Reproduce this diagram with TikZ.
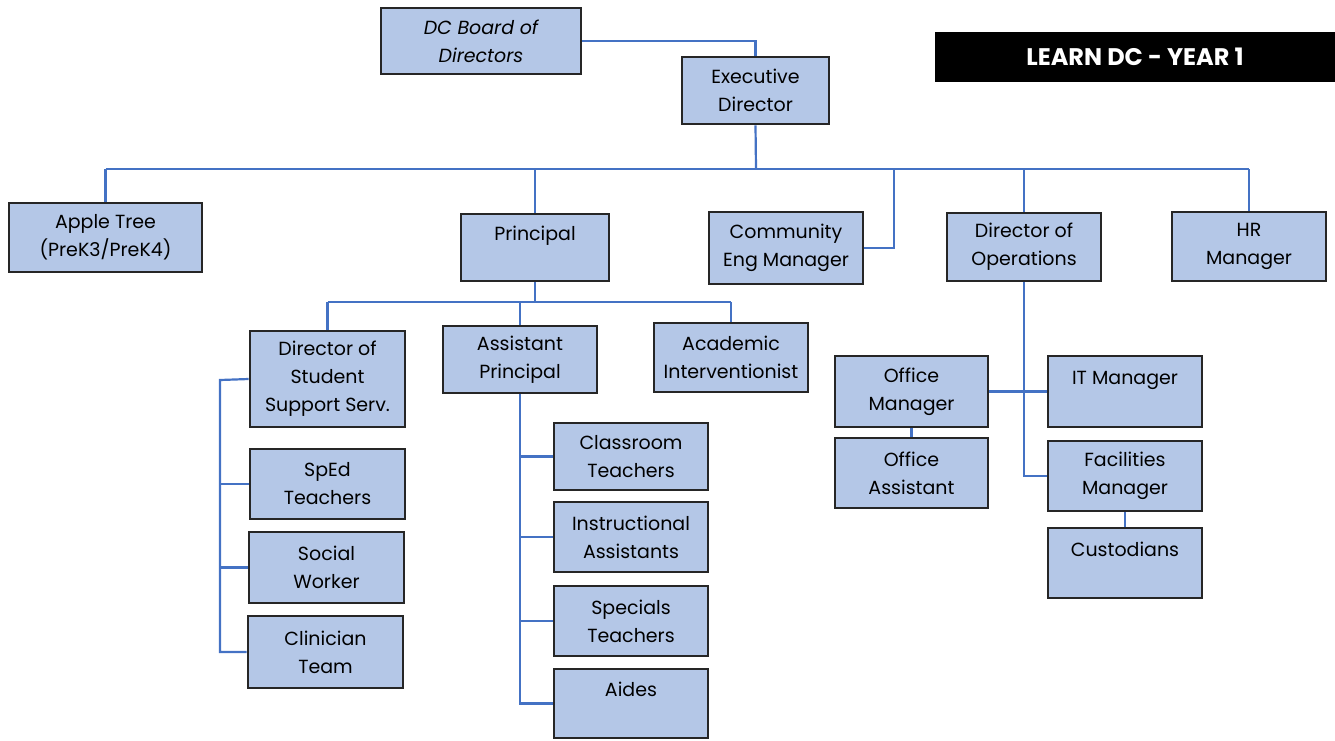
\documentclass[tikz,border=0pt]{standalone}
\usepackage{fontspec}
\setmainfont{Poppins}
\usepackage{xcolor}
\definecolor{boxblue}{HTML}{B4C7E7}
\definecolor{linkblue}{HTML}{4472C4}

\begin{document}
\begin{tikzpicture}[x=1pt,y=-1pt,
  unit/.style={draw=black!85,line width=2.6pt,fill=boxblue,align=center,inner sep=0pt,
    font=\fontsize{19}{28}\selectfont},
  sz/.style 2 args={minimum width=#1pt,minimum height=#2pt},
  link/.style={draw=linkblue,line width=2.2pt}]
  \useasboundingbox (0,0) rectangle (1335,740);

  % top of the chart
  \node[unit,sz={200}{66},font=\fontsize{19}{28}\selectfont\itshape] (board) at (481,41) {DC Board of\\Directors};
  \node[unit,sz={147}{67}] (exec) at (755.5,90.5) {Executive\\Director};
  \node[fill=black,sz={400}{50},inner sep=0pt,text=white,font=\fontsize{24}{28}\bfseries\selectfont] (title) at (1135,57) {LEARN DC - YEAR 1};

  % second row
  \node[unit,sz={193}{69}] (apple) at (105.5,237.5) {Apple Tree\\(PreK3/PreK4)};
  \node[unit,sz={148}{67}] (principal) at (535,247.5) {Principal\\~};
  \node[unit,sz={154}{72}] (community) at (786,248) {Community\\Eng Manager};
  \node[unit,sz={154}{68}] (ops) at (1024,247) {Director of\\Operations};
  \node[unit,sz={154}{69}] (hr) at (1249,246.5) {HR\\Manager};

  % under the principal
  \node[unit,sz={155}{96}] (dsss) at (327.5,379) {Director of\\Student\\Support Serv.};
  \node[unit,sz={154}{67}] (asst) at (520,359.5) {Assistant\\Principal};
  \node[unit,sz={154}{69}] (acad) at (731,357.5) {Academic\\Interventionist};
  \node[unit,sz={155}{70}] (sped) at (327.5,484) {SpEd\\Teachers};
  \node[unit,sz={155}{71}] (social) at (326.5,567.5) {Social\\Worker};
  \node[unit,sz={155}{72}] (clin) at (325.5,652) {Clinician\\Team};
  \node[unit,sz={154}{67}] (class) at (631,456.5) {Classroom\\Teachers};
  \node[unit,sz={154}{70}] (instr) at (631,537) {Instructional\\Assistants};
  \node[unit,sz={154}{70}] (spec) at (631,621) {Specials\\Teachers};
  \node[unit,sz={154}{69}] (aides) at (631,703.5) {Aides\\~};

  % under operations
  \node[unit,sz={153}{71}] (offmgr) at (911.5,391.5) {Office\\Manager};
  \node[unit,sz={153}{70}] (offasst) at (911.5,473) {Office\\Assistant};
  \node[unit,sz={154}{71}] (it) at (1125,391.5) {IT Manager\\~};
  \node[unit,sz={154}{70}] (fac) at (1125,476) {Facilities\\Manager};
  \node[unit,sz={154}{70}] (cust) at (1125,563) {Custodians\\~};

  \coordinate (bus) at (756,169);
  \coordinate (cejoin) at (894,169);
  \coordinate (pbus) at (535,302);
  \coordinate (sbar) at (220,380);

  \draw[link] (board.east) -| (exec.north);
  \draw[link] (exec.south) -- (bus);
  \draw[link] (apple.north |- bus) -- (hr.north |- bus);
  \foreach \n in {apple,principal,ops,hr}
    \draw[link] (\n.north |- bus) -- (\n.north);
  \draw[link] (community.east) -| (cejoin);

  \draw[link] (principal.south) -- (pbus);
  \draw[link] (dsss.north |- pbus) -- (acad.north |- pbus);
  \foreach \n in {dsss,asst,acad}
    \draw[link] (\n.north |- pbus) -- (\n.north);

  \draw[link] (dsss.west) -- (sbar) |- (clin.west);
  \foreach \n in {sped,social}
    \draw[link] (\n.west) -- (\n.west -| sbar);

  \draw[link] (asst.south) |- (aides.west);
  \foreach \n in {class,instr,spec}
    \draw[link] (\n.west) -- (\n.west -| asst.south);

  \draw[link] (ops.south) |- (fac.west);
  \draw[link] (offmgr.east) -- (it.west);
  \draw[link] (offmgr.south) -- (offasst.north);
  \draw[link] (fac.south) -- (cust.north);
\end{tikzpicture}
\end{document}
